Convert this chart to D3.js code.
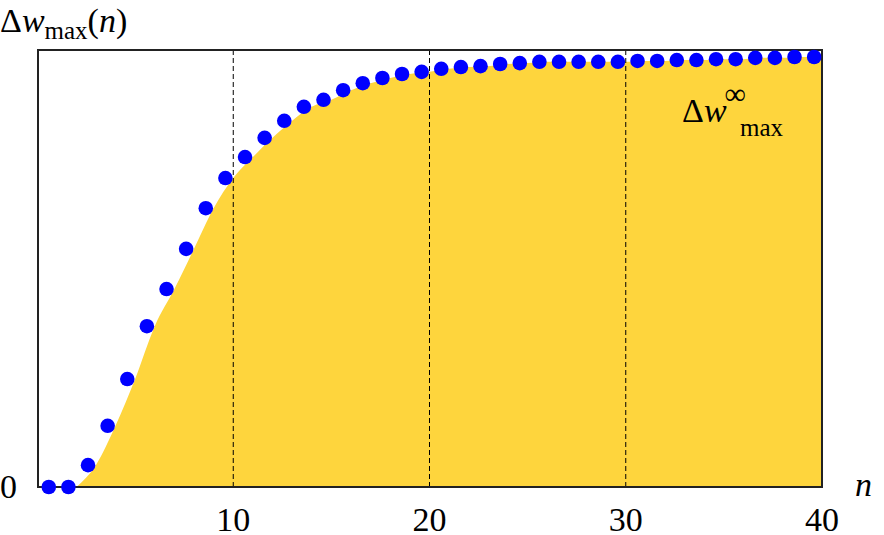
<!DOCTYPE html>
<html>
<head>
<meta charset="utf-8">
<script src="https://cdn.jsdelivr.net/npm/d3@7"></script>
<style>
  body { margin: 0; background: #fff; }
  text { font-family: "Liberation Serif", "DejaVu Serif", serif; fill: #000; }
</style>
</head>
<body>
<svg id="chart" width="884" height="535"></svg>
<script>
// dot values for n = 1..40 (normalised to the box height)
const nValues = d3.range(1, 41);
const dwValues = [0, 0, 0.050, 0.140, 0.247, 0.368, 0.453, 0.545, 0.638, 0.707,
  0.755, 0.799, 0.838, 0.870, 0.886, 0.908, 0.924, 0.936, 0.945, 0.950,
  0.957, 0.961, 0.963, 0.968, 0.970, 0.973, 0.973, 0.973, 0.973, 0.973,
  0.975, 0.975, 0.977, 0.977, 0.979, 0.979, 0.982, 0.982, 0.984, 0.984];
const xTicks = [10, 20, 30, 40];
const gridTicks = [10, 20, 30];

const svg = d3.select("#chart");
let marginLeft = 37, plotRight = 822, plotTop = 50, plotBottom = 487;

const x = d3.scaleLinear().domain([0, 40]).range([marginLeft, plotRight]);
const y = d3.scaleLinear().domain([0, 1]).range([plotBottom, plotTop]);
const dotShift = 0.4;

// yellow area
const area = d3.area()
  .x(d => x(d[0]))
  .y0(y(0))
  .y1(d => y(d[1]))
  .curve(d3.curveMonotoneX);
svg.append("path")
  .datum(nValues.map((n, i) => [n, dwValues[i]]).slice(1))
  .attr("d", area)
  .style("fill", "#fed53d");

// dashed grid
svg.selectAll("line.grid").data(gridTicks).enter().append("line")
  .attr("x1", d => x(d)).attr("x2", d => x(d))
  .attr("y1", y(0)).attr("y2", y(1))
  .style("stroke", "#000").style("stroke-width", 1)
  .style("stroke-dasharray", "5,3");

// frame
svg.append("rect")
  .attr("x", marginLeft + 1).attr("y", plotTop)
  .attr("width", plotRight - marginLeft - 1).attr("height", plotBottom - plotTop)
  .style("fill", "none").style("stroke", "#222").style("stroke-width", 2);

// dots
svg.selectAll("circle").data(dwValues).enter().append("circle")
  .attr("cx", (d, i) => x(nValues[i] - dotShift))
  .attr("cy", d => y(d))
  .attr("r", 7.3)
  .style("fill", "#0000ff");

// tick labels
svg.selectAll("text.xt").data(xTicks).enter().append("text")
  .attr("x", d => x(d)).attr("y", 531)
  .attr("text-anchor", "middle")
  .style("font-size", "34px")
  .text(d => d);
svg.append("text").attr("x", 0).attr("y", 498)
  .style("font-size", "34px").text("0");
svg.append("text").attr("x", 855).attr("y", 496)
  .style("font-size", "34px").style("font-style", "italic").text("n");

// y label
const yl = svg.append("text").attr("x", 0).attr("y", 32).style("font-size", "34px");
yl.append("tspan").text("Δ");
yl.append("tspan").style("font-style", "italic").text("w");
yl.append("tspan").attr("dy", 7).style("font-size", "25px").text("max");
yl.append("tspan").attr("dy", -7).text("(");
yl.append("tspan").style("font-style", "italic").text("n");
yl.append("tspan").text(")");

// asymptote label
const al = svg.append("text").attr("x", 682).attr("y", 122).style("font-size", "34px");
al.append("tspan").text("Δ");
al.append("tspan").style("font-style", "italic").text("w");
al.append("tspan").attr("dy", -18).attr("dx", -2).style("font-size", "30px").text("∞");
svg.append("text").attr("x", 740).attr("y", 136).style("font-size", "25px").text("max");
</script>
</body>
</html>
